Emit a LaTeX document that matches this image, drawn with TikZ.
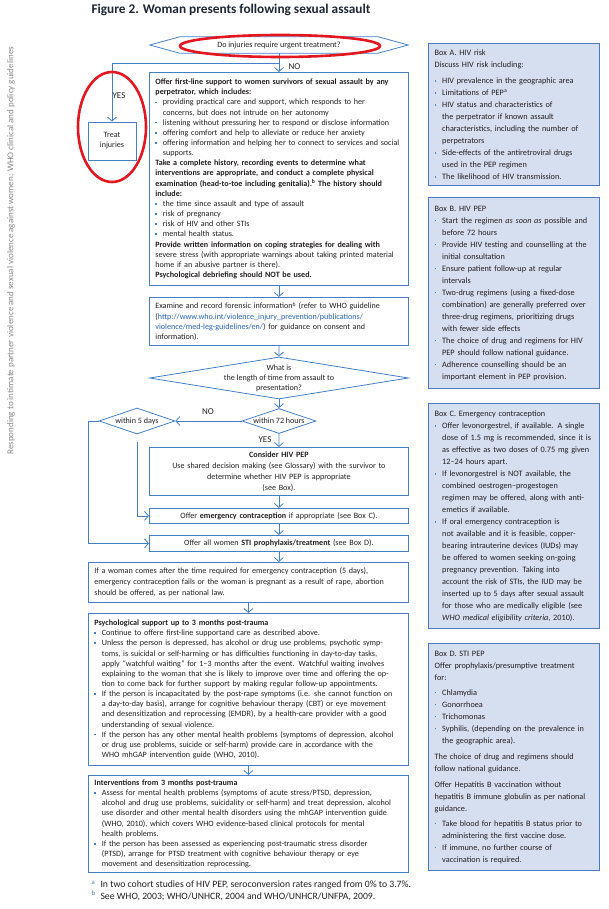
\documentclass[tikz,border=0pt]{standalone}
\usepackage{fontspec}
\setmainfont{Carlito}
\usetikzlibrary{arrows.meta,shapes.geometric,positioning}

\definecolor{lineblue}{RGB}{68,128,198}
\definecolor{boxedge}{RGB}{72,122,192}
\definecolor{boxfill}{RGB}{214,223,240}
\definecolor{ink}{RGB}{35,31,32}
\definecolor{urlblue}{RGB}{38,98,178}
\definecolor{markred}{RGB}{228,22,32}
\definecolor{headgray}{RGB}{135,135,135}
\definecolor{titleink}{RGB}{30,38,52}

\newcommand{\flowfont}{\fontsize{8.1}{10.15}\selectfont}
\newcommand{\boxfont}{\fontsize{8.25}{12}\selectfont}
\newcommand{\bitem}{\makebox[7.5pt][l]{\textcolor{lineblue}{\rule[1.8pt]{1.6pt}{1.6pt}}}}
\newcommand{\cont}{\hspace*{7.5pt}}
\newcommand{\fnmark}[1]{\makebox[9pt][l]{\textcolor{lineblue}{\textsuperscript{#1}}}}

\tikzset{
  flow/.style={draw=lineblue, line width=0.8pt, anchor=north west, inner xsep=6pt, inner ysep=0pt, align=left, font=\flowfont, text=ink},
  sidebox/.style={draw=boxedge, line width=1.4pt, fill=boxfill, anchor=north west, inner xsep=6pt, inner ysep=0pt, text width=159pt, align=left, font=\boxfont, text=ink},
  choice/.style={diamond, draw=lineblue, line width=0.8pt, inner sep=0pt},
  qtext/.style={align=center, font=\flowfont, text=ink},
  link/.style={draw=lineblue, line width=0.8pt, -{Straight Barb[length=4pt,width=9pt]}},
  wire/.style={draw=lineblue, line width=0.8pt},
  tag/.style={font=\fontsize{9}{9}\selectfont, text=ink},
  redring/.style={draw=markred, line width=2.6pt}
}

\begin{document}
\begin{tikzpicture}[x=1pt,y=-1pt]
  \useasboundingbox (0,0) rectangle (609,909);

  % running head and title
  \node[rotate=90, anchor=west, font=\fontsize{9}{9}\selectfont, text=headgray] (runhead) at (11,458)
    {Responding to intimate partner violence and sexual violence against women: WHO clinical and policy guidelines};
  \node[anchor=west, font=\fontsize{13.3}{15}\selectfont\bfseries, text=titleink] (title) at (88,10)
    {Figure 2. Woman presents following sexual assault};

  % first question
  \node[inner sep=0pt, minimum width=258pt, minimum height=16pt, font=\flowfont, text=ink] (q1) at (279,45)
    {Do injuries require urgent treatment?};
  \draw[wire] (q1.west) -- ([xshift=30pt]q1.north west) -- ([xshift=-30pt]q1.north east) -- (q1.east)
    -- ([xshift=-30pt]q1.south east) -- ([xshift=30pt]q1.south west) -- cycle;

  \node[flow, anchor=center, align=center, inner xsep=2pt, minimum width=48pt, minimum height=38pt] (treat) at (112,141)
    {Treat\\injuries};

  \node[flow, text width=247pt, minimum height=213pt] (b1) at (149,72) {%
    \textbf{Offer first-line support to women survivors of sexual assault by any}\\
    \textbf{perpetrator, which includes:}\\
    \bitem providing practical care and support, which responds to her\\
    \cont concerns, but does not intrude on her autonomy\\
    \bitem listening without pressuring her to respond or disclose information\\
    \bitem offering comfort and help to alleviate or reduce her anxiety\\
    \bitem offering information and helping her to connect to services and social\\
    \cont supports.\\
    \textbf{Take a complete history, recording events to determine what}\\
    \textbf{interventions are appropriate, and conduct a complete physical}\\
    \textbf{examination (head-to-toe including genitalia).\textsuperscript{b} The history should}\\
    \textbf{include:}\\
    \bitem the time since assault and type of assault\\
    \bitem risk of pregnancy\\
    \bitem risk of HIV and other STIs\\
    \bitem mental health status.\\
    \textbf{Provide written information on coping strategies for dealing with}\\
    severe stress (with appropriate warnings about taking printed material\\
    home if an abusive partner is there).\\
    \textbf{Psychological debriefing should NOT be used.}};

  \node[flow, text width=247pt, minimum height=48pt] (b2) at (149,297) {%
    Examine and record forensic information\textsuperscript{b} (refer to WHO guideline\\
    (\textcolor{urlblue}{http://www.who.int/violence\_injury\_prevention/publications/}\\
    \textcolor{urlblue}{violence/med-leg-guidelines/en/}) for guidance on consent and\\
    information).};

  % time since assault
  \node[choice, minimum width=259pt, minimum height=42pt,
    label={[qtext]center:{What is\\the length of time from assault to\\presentation?}}] (q2) at (279,378) {};
  \node[choice, minimum width=74pt, minimum height=25pt,
    label={[qtext]center:within 72 hours}] (q3) at (279,421) {};
  \node[choice, minimum width=76pt, minimum height=26pt,
    label={[qtext]center:within 5 days}] (q4) at (137,421) {};

  \node[flow, align=center, text width=247pt, minimum height=48pt, font=\fontsize{8.1}{11}\selectfont] (pep) at (149,447) {%
    \textbf{Consider HIV PEP}\\
    Use shared decision making (see Glossary) with the survivor to\\
    determine whether HIV PEP is appropriate\\
    (see Box).};
  \node[flow, align=center, text width=247pt, minimum height=15pt] (ec) at (149,508)
    {Offer \textbf{emergency contraception} if appropriate (see Box C).};
  \node[flow, align=center, text width=247pt, minimum height=16pt] (sti) at (149,535)
    {Offer all women \textbf{STI prophylaxis/treatment} (see Box D).};

  \node[flow, text width=308pt, minimum height=40pt, font=\fontsize{8.1}{10.8}\selectfont] (abort) at (88,562) {%
    If a woman comes after the time required for emergency contraception (5 days),\\
    emergency contraception fails or the woman is pregnant as a result of rape, abortion\\
    should be offered, as per national law.};

  \node[flow, text width=308pt, minimum height=152pt] (psych) at (88,613) {%
    \textbf{Psychological support up to 3 months post-trauma}\\
    \bitem Continue to offere first-line supportand care as described above.\\
    \bitem Unless the person is depressed, has alcohol or drug use problems, psychotic symp-\\
    \cont toms, is suicidal or self-harming or has difficulties functioning in day-to-day tasks,\\
    \cont apply “watchful waiting” for 1–3 months after the event. Watchful waiting involves\\
    \cont explaining to the woman that she is likely to improve over time and offering the op-\\
    \cont tion to come back for further support by making regular follow-up appointments.\\
    \bitem If the person is incapacitated by the post-rape symptoms (i.e. she cannot function on\\
    \cont a day-to-day basis), arrange for cognitive behaviour therapy (CBT) or eye movement\\
    \cont and desensitization and reprocessing (EMDR), by a health-care provider with a good\\
    \cont understanding of sexual violence.\\
    \bitem If the person has any other mental health problems (symptoms of depression, alcohol\\
    \cont or drug use problems, suicide or self-harm) provide care in accordance with the\\
    \cont WHO mhGAP intervention guide (WHO, 2010).};

  \node[flow, text width=308pt, minimum height=97pt] (interv) at (88,775) {%
    \textbf{Interventions from 3 months post-trauma}\\
    \bitem Assess for mental health problems (symptoms of acute stress/PTSD, depression,\\
    \cont alcohol and drug use problems, suicidality or self-harm) and treat depression, alcohol\\
    \cont use disorder and other mental health disorders using the mhGAP intervention guide\\
    \cont (WHO, 2010), which covers WHO evidence-based clinical protocols for mental\\
    \cont health problems.\\
    \bitem If the person has been assessed as experiencing post-traumatic stress disorder\\
    \cont (PTSD), arrange for PTSD treatment with cognitive behaviour therapy or eye\\
    \cont movement and desensitization reprocessing.};

  % connectors
  \draw[link] (q1.south) -- (q1.south |- b1.north);
  \coordinate (yesturn) at (279,63);
  \draw[link] (yesturn) -| (treat.north);
  \node[tag, anchor=west] (no1) at (285,67) {NO};
  \node[tag] (yes1) at (119,96) {YES};

  \draw[link] (b1.south) -- (b2.north);
  \draw[link] (b2.south) -- (q2.north);
  \draw[link] (q2.south) -- (q3.north);
  \draw[link] (q3.west) -- (q4.east);
  \node[tag] (no2) at (208,412) {NO};
  \draw[link] (q3.south) -- (pep.north);
  \node[tag] (yes2) at (265,440) {YES};

  \coordinate (railtop) at (88,421);
  \draw[link] (q4.west) -- (railtop) |- (sti.west);
  \draw[link] ([yshift=-8pt]q4.south) |- (ec.west);

  \draw[link] (pep.south) -- (ec.north);
  \draw[link] (ec.south) -- (sti.north);
  \draw[link] (sti.south) -- (sti.south |- abort.north);
  \draw[link] (abort.south) -- (psych.north);
  \draw[link] (psych.south) -- (interv.north);

  % footnotes
  \node[anchor=west, font=\fontsize{9.7}{11}\selectfont, text=ink] (fna) at (88,885)
    {\fnmark{a}In two cohort studies of HIV PEP, seroconversion rates ranged from 0\% to 3.7\%.};
  \node[anchor=west, font=\fontsize{9.7}{11}\selectfont, text=ink] (fnb) at (88,896)
    {\fnmark{b}See WHO, 2003; WHO/UNHCR, 2004 and WHO/UNHCR/UNFPA, 2009.};

  % side boxes
  \node[sidebox, minimum height=142pt] (boxA) at (428,43) {%
    Box A. HIV risk\\
    Discuss HIV risk including:\\[4pt]
    \bitem HIV prevalence in the geographic area\\
    \bitem Limitations of PEP\textsuperscript{a}\\
    \bitem HIV status and characteristics of\\
    \cont the perpetrator if known assault\\
    \cont characteristics, including the number of\\
    \cont perpetrators\\
    \bitem Side-effects of the antiretroviral drugs\\
    \cont used in the PEP regimen\\
    \bitem The likelihood of HIV transmission.};

  \node[sidebox, minimum height=191pt] (boxB) at (428,197) {%
    Box B. HIV PEP\\
    \bitem Start the regimen \textit{as soon as} possible and\\
    \cont before 72 hours\\
    \bitem Provide HIV testing and counselling at the\\
    \cont initial consultation\\
    \bitem Ensure patient follow-up at regular\\
    \cont intervals\\
    \bitem Two-drug regimens (using a fixed-dose\\
    \cont combination) are generally preferred over\\
    \cont three-drug regimens, prioritizing drugs\\
    \cont with fewer side effects\\
    \bitem The choice of drug and regimens for HIV\\
    \cont PEP should follow national guidance.\\
    \bitem Adherence counselling should be an\\
    \cont important element in PEP provision.};

  \node[sidebox, minimum height=225pt] (boxC) at (428,403) {%
    Box C. Emergency contraception\\
    \bitem Offer levonorgestrel, if available. A single\\
    \cont dose of 1.5 mg is recommended, since it is\\
    \cont as effective as two doses of 0.75 mg given\\
    \cont 12–24 hours apart.\\
    \bitem If levonorgestrel is NOT available, the\\
    \cont combined oestrogen–progestogen\\
    \cont regimen may be offered, along with anti-\\
    \cont emetics if available.\\
    \bitem If oral emergency contraception is\\
    \cont not available and it is feasible, copper-\\
    \cont bearing intrauterine devices (IUDs) may\\
    \cont be offered to women seeking on-going\\
    \cont pregnancy prevention. Taking into\\
    \cont account the risk of STIs, the IUD may be\\
    \cont inserted up to 5 days after sexual assault\\
    \cont for those who are medically eligible (see\\
    \cont \textit{WHO medical eligibility criteria}, 2010).};

  \node[sidebox, minimum height=227pt] (boxD) at (428,643) {%
    Box D. STI PEP\\
    Offer prophylaxis/presumptive treatment\\
    for:\\[3pt]
    \bitem Chlamydia\\
    \bitem Gonorrhoea\\
    \bitem Trichomonas\\
    \bitem Syphilis, (depending on the prevalence in\\
    \cont the geographic area).\\[4pt]
    The choice of drug and regimens should\\
    follow national guidance.\\[4pt]
    Offer Hepatitis B vaccination without\\
    hepatitis B immune globulin as per national\\
    guidance.\\[3pt]
    \bitem Take blood for hepatitis B status prior to\\
    \cont administering the first vaccine dose.\\
    \bitem If immune, no further course of\\
    \cont vaccination is required.};

  % red marks
  \draw[redring] (280,46) ellipse [x radius=100pt, y radius=11pt];
  \draw[redring] (112,127) ellipse [x radius=34pt, y radius=55pt];
\end{tikzpicture}
\end{document}
